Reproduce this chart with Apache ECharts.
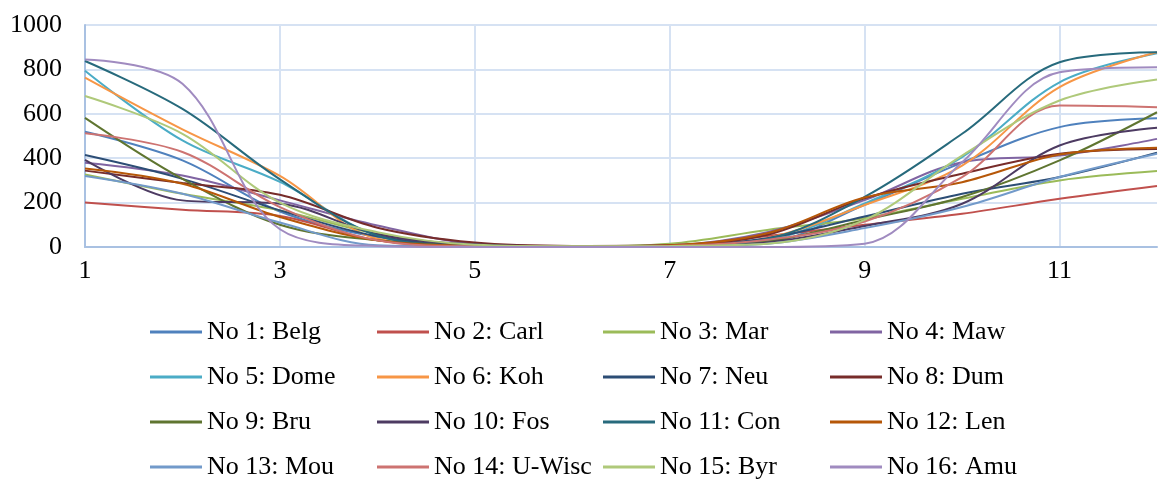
<!DOCTYPE html>
<html>
<head>
<meta charset="utf-8">
<script src="https://cdn.jsdelivr.net/npm/echarts@6/dist/echarts.min.js"></script>
<style>
html,body{margin:0;padding:0;background:#fff;}
#chart{width:1158px;height:482px;}
</style>
</head>
<body>
<div id="chart"></div>
<script>
const months = ['1','2','3','4','5','6','7','8','9','10','11','12'];
const seriesNames = ['No 1: Belg','No 2: Carl','No 3: Mar','No 4: Maw','No 5: Dome','No 6: Koh','No 7: Neu','No 8: Dum','No 9: Bru','No 10: Fos','No 11: Con','No 12: Len','No 13: Mou','No 14: U-Wisc','No 15: Byr','No 16: Amu'];
const belg  = [519, 390, 160, 45, 8, 3, 5, 20, 190, 380, 540, 580];
const carl  = [201, 168, 140, 30, 5, 3, 5, 50, 100, 150, 217, 275];
const mar   = [327, 240, 165, 60, 8, 3, 15, 77, 130, 217, 300, 342];
const maw   = [380, 322, 210, 97, 15, 3, 8, 67, 211, 382, 412, 487];
const dome  = [794, 480, 293, 52, 5, 2, 5, 30, 196, 405, 742, 873];
const koh   = [763, 530, 320, 37, 5, 2, 5, 40, 189, 367, 720, 877];
const neu   = [414, 307, 165, 48, 5, 2, 5, 40, 137, 240, 315, 425];
const dum   = [344, 288, 235, 87, 20, 5, 8, 55, 219, 330, 420, 442];
const bru   = [582, 307, 100, 30, 5, 2, 5, 25, 122, 225, 390, 607];
const fos   = [392, 210, 195, 57, 12, 3, 5, 20, 95, 195, 457, 537];
const con   = [838, 622, 305, 52, 5, 2, 5, 36, 226, 510, 832, 877];
const len   = [354, 285, 135, 30, 5, 2, 8, 62, 223, 292, 417, 447];
const mou   = [320, 240, 110, 8, 3, 2, 3, 15, 85, 180, 315, 420];
const uwisc = [512, 428, 180, 30, 3, 2, 5, 33, 115, 315, 637, 630];
const byr   = [680, 510, 200, 67, 10, 3, 5, 15, 122, 412, 660, 755];
const amu   = [845, 735, 80, 5, 0, 0, 0, 0, 15, 382, 787, 810];
const seriesData = [belg, carl, mar, maw, dome, koh, neu, dum, bru, fos, con, len, mou, uwisc, byr, amu];
const colors = ['#4F81BD','#C0504D','#9BBB59','#8064A2','#4BACC6','#F79646','#2C4D75','#772C2A','#5F7530','#4D3B62','#276A7C','#B65708','#729ACA','#CD7371','#AFC97A','#A08BC0'];

const font = 'Liberation Serif, Times New Roman, serif';
const legendLefts = [150, 377, 603, 830];
const legends = legendLefts.map((lx, c) => ({
  orient: 'vertical',
  left: lx,
  top: 319,
  itemWidth: 52,
  itemHeight: 3,
  itemGap: 19,
  icon: 'rect',
  padding: 0,
  textStyle: {fontFamily: font, fontSize: 26, color: '#000', lineHeight: 26},
  data: seriesNames.filter((n, i) => i % 4 === c)
}));

const chart = echarts.init(document.getElementById('chart'), null, {renderer: 'canvas'});
chart.setOption({
  animation: false,
  color: colors,
  grid: {left: 85, right: 1, top: 25, bottom: 235, containLabel: false},
  legend: legends,
  xAxis: {
    type: 'category',
    data: months,
    boundaryGap: false,
    axisLine: {show: true, lineStyle: {color: '#A9C1E2', width: 2}},
    axisTick: {show: false},
    axisLabel: {interval: 1, margin: 11, fontFamily: font, fontSize: 26, color: '#000'},
    splitLine: {show: true, interval: 1, lineStyle: {color: '#D6E2F3', width: 2}}
  },
  yAxis: {
    type: 'value',
    min: 0, max: 1000, interval: 200,
    axisLine: {show: true, lineStyle: {color: '#A9C1E2', width: 2}},
    axisTick: {show: false},
    axisLabel: {margin: 23, fontFamily: font, fontSize: 26, color: '#000', formatter: v => String(v)},
    splitLine: {show: true, lineStyle: {color: '#D6E2F3', width: 2}}
  },
  series: seriesNames.map((n, i) => ({
    name: n,
    type: 'line',
    data: seriesData[i],
    smooth: 0.35,
    symbol: 'none',
    lineStyle: {width: 2},
    clip: true
  }))
});
</script>
</body>
</html>
